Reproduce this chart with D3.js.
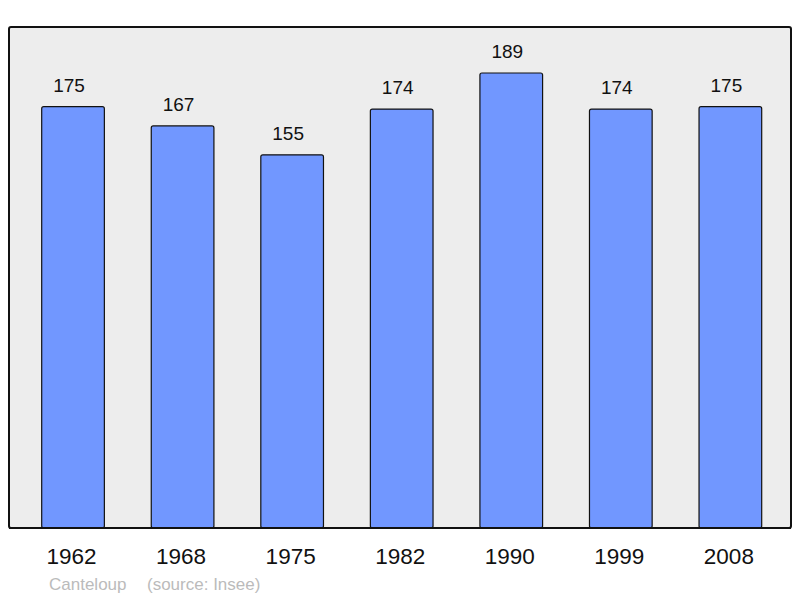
<!DOCTYPE html>
<html>
<head>
<meta charset="utf-8">
<script src="https://cdn.jsdelivr.net/npm/d3@7"></script>
<style>
  body { margin: 0; background: #fff; }
  text { font-family: "Liberation Sans", Arial, sans-serif; }
</style>
</head>
<body>
<div id="chart"></div>
<script>
// population by census year
var years = ["1962", "1968", "1975", "1982", "1990", "1999", "2008"];
var population = [175, 167, 155, 174, 189, 174, 175];
var townName = "Canteloup";
var sourceNote = "(source: Insee)";

var width = 800, height = 598;
var box = { left: 9, top: 27, right: 791, bottom: 528 };

var svg = d3.select("#chart").append("svg")
  .attr("width", width)
  .attr("height", height);

svg.append("rect")
  .attr("x", box.left)
  .attr("y", box.top)
  .attr("width", box.right - box.left)
  .attr("height", box.bottom - box.top)
  .attr("rx", 2)
  .attr("fill", "#ededed")
  .attr("stroke", "#111")
  .attr("stroke-width", 2);

var x = d3.scaleBand().domain(years).range([41.7, 761.7]).paddingInner(0.428).paddingOuter(0);
var y = d3.scaleLinear().domain([0, 189]).range([box.bottom, 73]);

var data = years.map(function(d, i) { return { year: d, value: population[i] }; });

svg.selectAll(".bar")
  .data(data)
  .enter().append("rect")
    .attr("class", "bar")
    .attr("x", d => x(d.year))
    .attr("y", d => y(d.value))
    .attr("width", x.bandwidth())
    .attr("height", d => box.bottom - y(d.value))
    .attr("rx", 2)
    .attr("fill", "#7197ff")
    .attr("stroke", "#111")
    .attr("stroke-width", 1.2);

svg.selectAll(".val")
  .data(data)
  .enter().append("text")
    .attr("class", "val")
    .attr("x", d => x(d.year) + x.bandwidth() / 2 - 4)
    .attr("y", d => y(d.value) - 15)
    .attr("text-anchor", "middle")
    .attr("font-size", "19px")
    .attr("fill", "#111")
    .text(d => d.value);

// redraw the frame bottom over the bars
svg.append("line")
  .attr("x1", box.left).attr("x2", box.right)
  .attr("y1", box.bottom).attr("y2", box.bottom)
  .attr("stroke", "#111").attr("stroke-width", 2);

var xAxis = svg.append("g")
  .attr("transform", "translate(0," + box.bottom + ")")
  .call(d3.axisBottom(x).tickSize(0).tickPadding(0));
xAxis.select(".domain").remove();
xAxis.selectAll("text")
  .attr("dy", null)
  .attr("y", 36)
  .attr("x", -1.5)
  .attr("font-size", "22.5px")
  .attr("font-family", "Liberation Sans, Arial, sans-serif")
  .attr("fill", "#111");

svg.append("text")
  .attr("x", 49).attr("y", 589.5)
  .attr("font-size", "17px")
  .attr("fill", "#bbbbbb")
  .text(townName);
svg.append("text")
  .attr("x", 147).attr("y", 589.5)
  .attr("font-size", "17px")
  .attr("fill", "#bbbbbb")
  .text(sourceNote);
</script>
</body>
</html>
